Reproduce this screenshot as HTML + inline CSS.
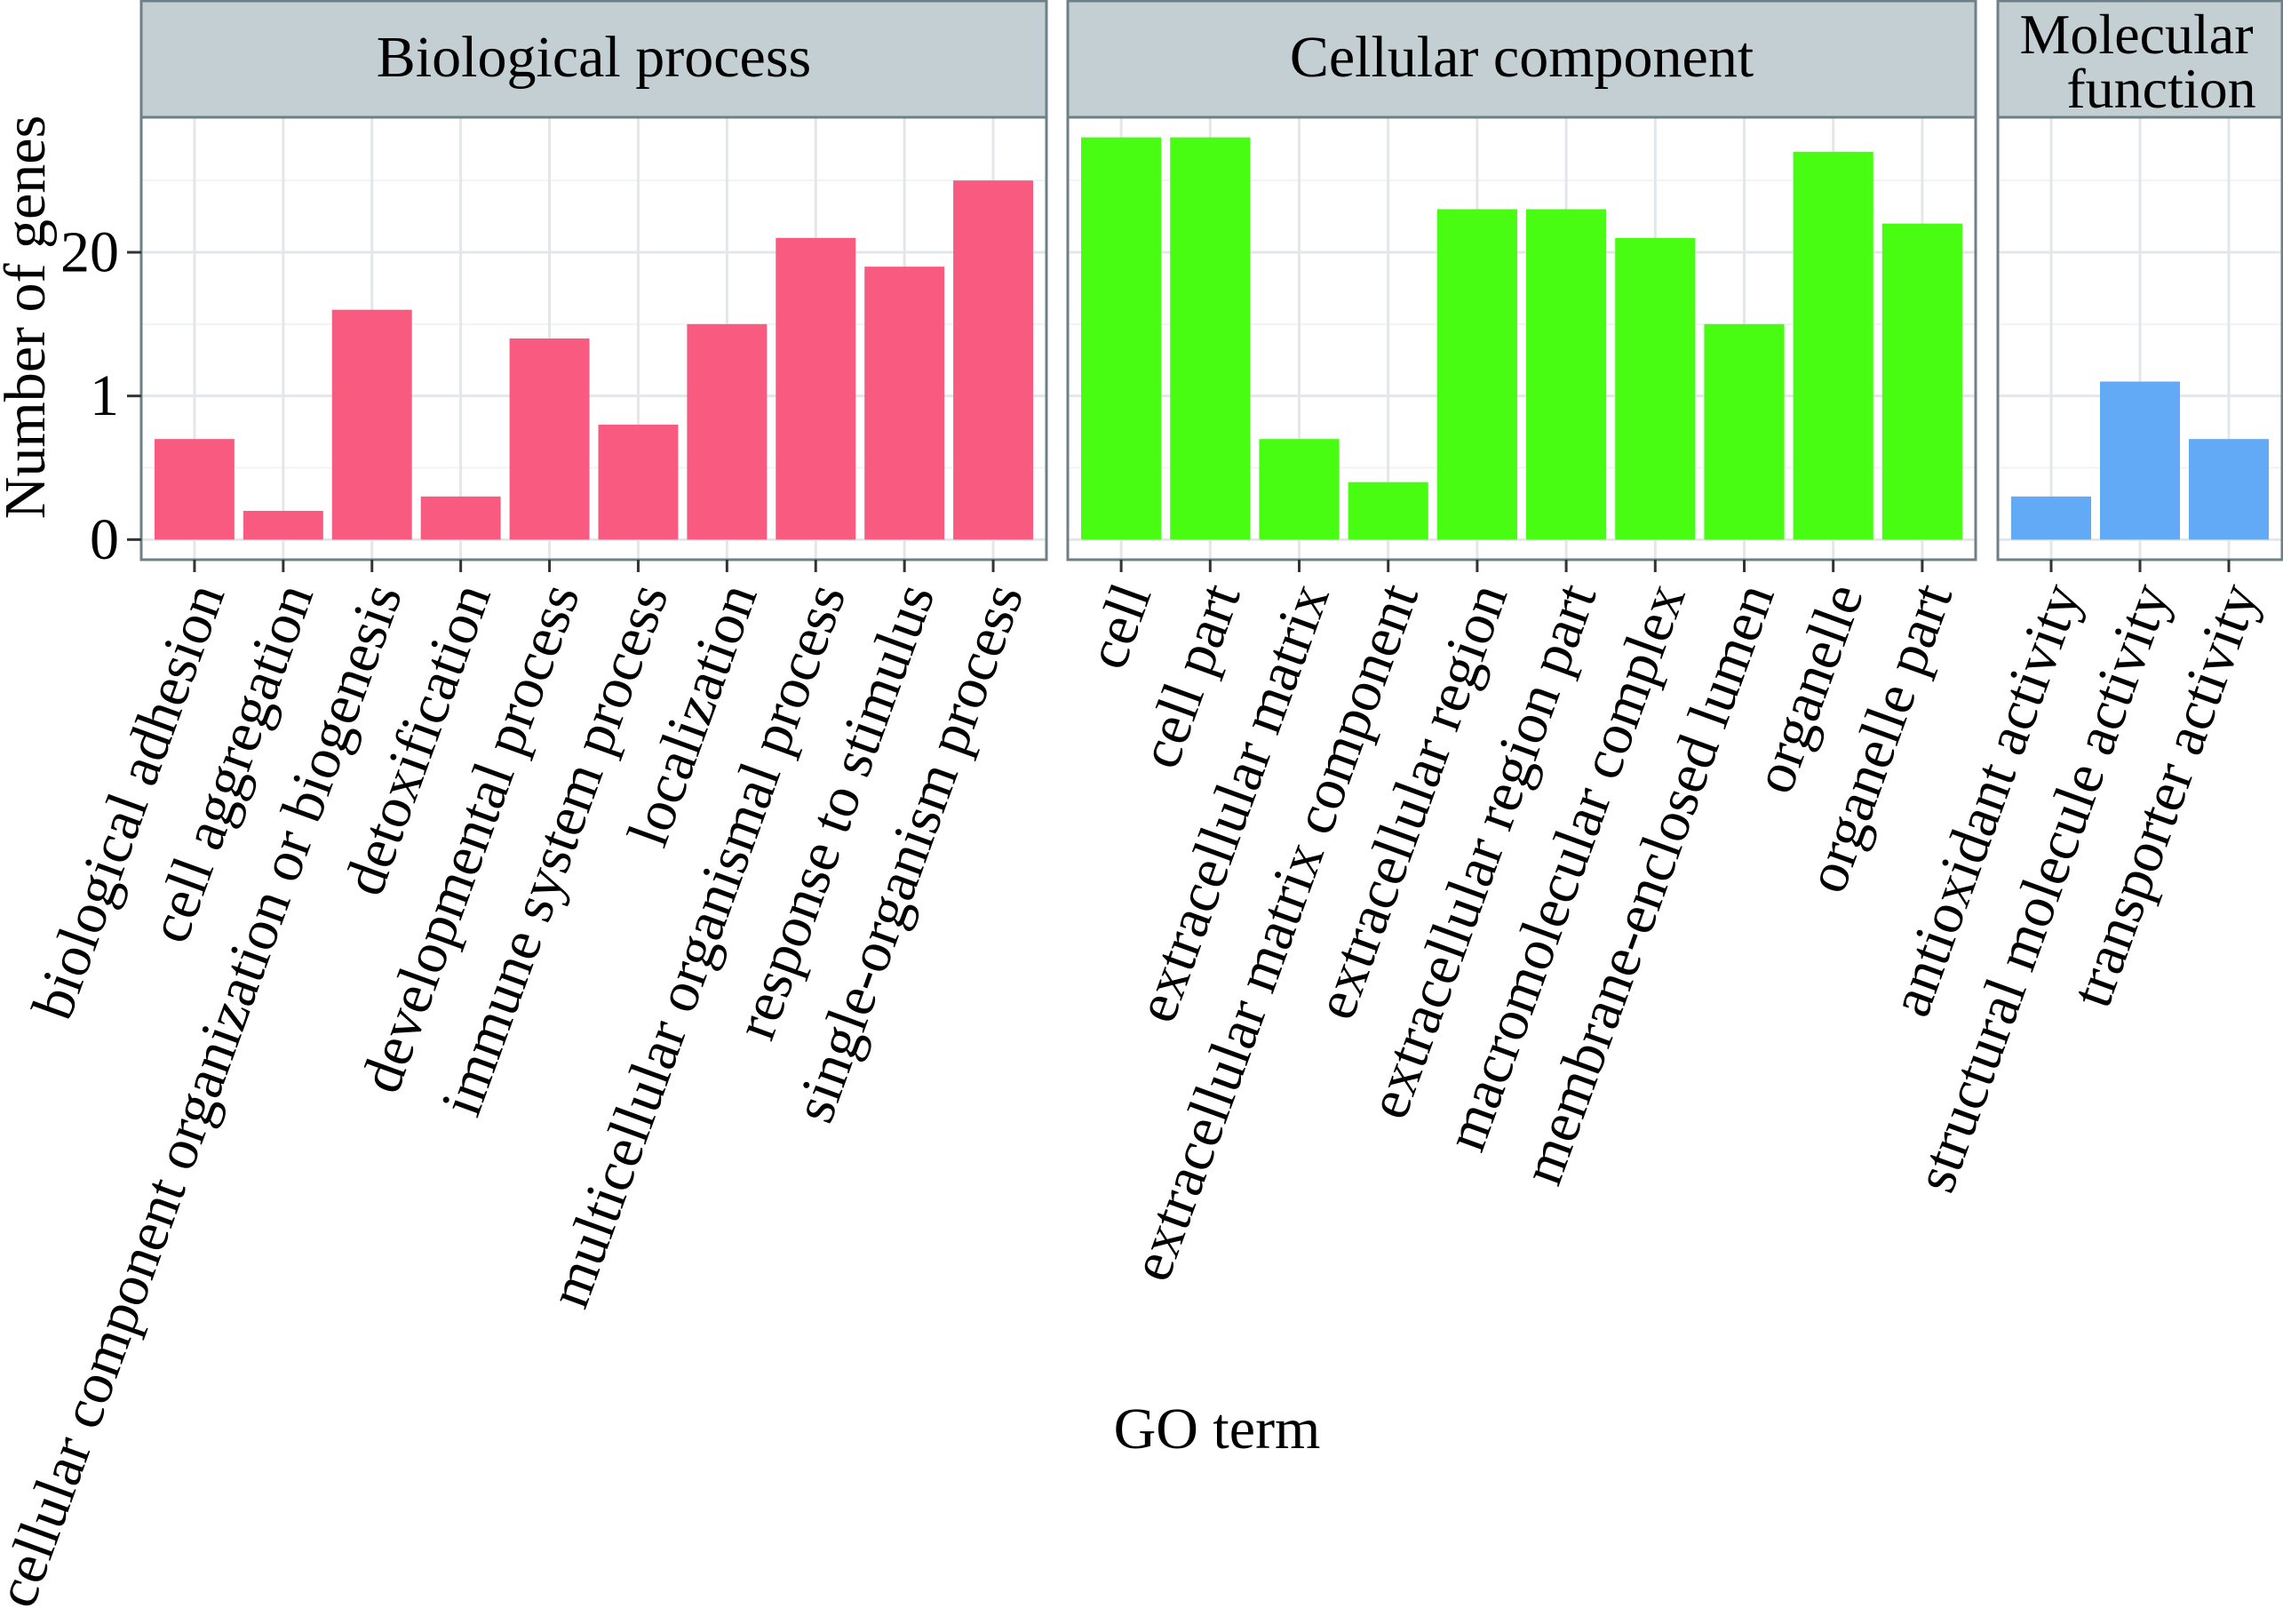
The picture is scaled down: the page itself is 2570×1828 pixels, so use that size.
<!DOCTYPE html>
<html><head><meta charset="utf-8"><style>
html,body{margin:0;padding:0;background:#fff}
svg{display:block}
text{font-family:"Liberation Serif",serif;fill:#000}
</style></head><body>
<svg id="chart" width="2570" height="1828" viewBox="0 0 2570 1828" xmlns="http://www.w3.org/2000/svg">
<g id="layer"></g>
</svg>
<script>
const bpCategories = ["biological adhesion","cell aggregation","cellular component organization or biogenesis","detoxification","developmental process","immune system process","localization","multicellular organismal process","response to stimulus","single-organism process"];
const bpValues = [7,2,16,3,14,8,15,21,19,25];
const ccCategories = ["cell","cell part","extracellular matrix","extracellular matrix component","extracellular region","extracellular region part","macromolecular complex","membrane-enclosed lumen","organelle","organelle part"];
const ccValues = [28,28,7,4,23,23,21,15,27,22];
const mfCategories = ["antioxidant activity","structural molecule activity","transporter activity"];
const mfValues = [3,11,7];
const yTickValues = [0,10,20];
const yTickLabels = ["0","1","20"];
const yMinorValues = [5,15,25];

const NS = "http://www.w3.org/2000/svg";
const layer = document.getElementById("layer");
function mk(tag, attrs, parent){const e=document.createElementNS(NS,tag);for(const k in attrs)e.setAttribute(k,attrs[k]);(parent||layer).appendChild(e);return e;}

const panelTop = 132, panelBottom = 630;
const yMin = -1.4, yMax = 29.4;
function yScale(v){return panelBottom - (v - yMin)/(yMax - yMin)*(panelBottom-panelTop);}

const panels = [
  {name:"biological-process", title:["Biological process"], left:159, right:1178, cats:bpCategories, vals:bpValues, color:"#f95a80"},
  {name:"cellular-component", title:["Cellular component"], left:1202, right:2224, cats:ccCategories, vals:ccValues, color:"#48fc12"},
  {name:"molecular-function", title:["Molecular","function"], left:2249, right:2569, cats:mfCategories, vals:mfValues, color:"#62a9f6"}
];

panels.forEach(p=>{
  const n = p.cats.length;
  const unit = (p.right - p.left)/(n + 0.2);
  const xScale = i => p.left + (i + 0.6)*unit;
  const g = mk("g",{});
  
  
  // strip
  const strip = mk("rect",{x:p.left,y:1,width:p.right-p.left,height:panelTop-1,fill:"#c4cfd3",stroke:"#6e8087","stroke-width":3},g);
  
  
  const cx = (p.left+p.right)/2;
  if(p.title.length===1){
    const t = mk("text",{x:cx,y:86,"text-anchor":"middle","font-size":66},g);
    t.textContent = p.title[0];
    
    
  } else {
    const t1 = mk("text",{x:2405,y:60,"text-anchor":"middle","font-size":64},g);
    t1.textContent = p.title[0];
    
    
    const t2 = mk("text",{x:2433,y:121,"text-anchor":"middle","font-size":64},g);
    t2.textContent = p.title[1];
    
    
  }
  // grid
  yMinorValues.forEach(v=>{
    const l = mk("line",{x1:p.left,x2:p.right,y1:yScale(v),y2:yScale(v),stroke:"#f1f3f4","stroke-width":2},g);
    
    
  });
  yTickValues.forEach(v=>{
    const l = mk("line",{x1:p.left,x2:p.right,y1:yScale(v),y2:yScale(v),stroke:"#e3e7e9","stroke-width":3},g);
    
    
  });
  p.cats.forEach((c,i)=>{
    const l = mk("line",{x1:xScale(i),x2:xScale(i),y1:panelTop,y2:panelBottom,stroke:"#e3e7e9","stroke-width":3},g);
    
    
  });
  // bars
  p.vals.forEach((v,i)=>{
    const x = xScale(i) - 0.45*unit;
    const r = mk("rect",{x:x,y:yScale(v),width:0.9*unit,height:yScale(0)-yScale(v),fill:p.color},g);
    
    
  });
  // border
  const b = mk("rect",{x:p.left,y:panelTop,width:p.right-p.left,height:panelBottom-panelTop,fill:"none",stroke:"#6e8087","stroke-width":3},g);
  
  
  // ticks & labels
  p.cats.forEach((c,i)=>{
    const x = xScale(i);
    const tk = mk("line",{x1:x,x2:x,y1:panelBottom,y2:panelBottom+14,stroke:"#333","stroke-width":3},g);
    
    
    const ax = x + 14, ay = 660;
    const t = mk("text",{x:ax,y:ay,"text-anchor":"end","dominant-baseline":"central","font-size":66,transform:`rotate(-70 ${ax} ${ay})`},g);
    t.textContent = c;
    
    
  });
});

// y axis ticks
yTickValues.forEach((v,i)=>{
  const tk = mk("line",{x1:143,x2:159,y1:yScale(v),y2:yScale(v),stroke:"#333","stroke-width":3});
  
  
  const t = mk("text",{x:134,y:yScale(v),"text-anchor":"end","dominant-baseline":"central","font-size":66});
  t.textContent = yTickLabels[i];
  
  
});

const yt = mk("text",{x:50,y:357,"text-anchor":"middle","font-size":66,transform:"rotate(-90 50 357)"});
yt.textContent = "Number of genes";



const xt = mk("text",{x:1370,y:1630,"text-anchor":"middle","font-size":66});
xt.textContent = "GO term";


</script>
</body></html>
